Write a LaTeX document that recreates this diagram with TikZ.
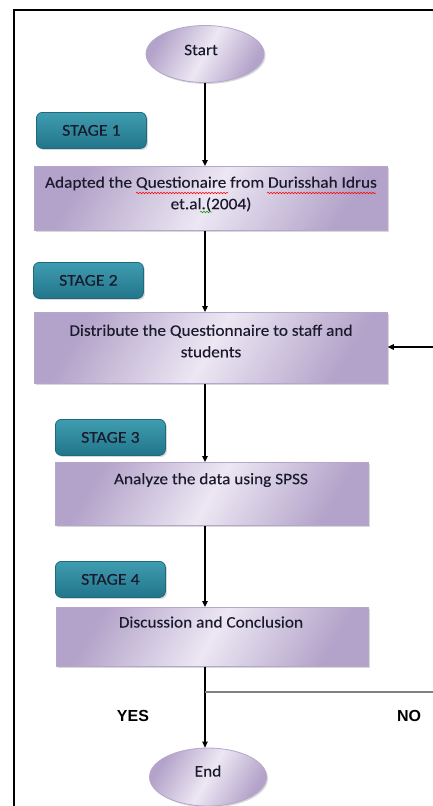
\documentclass[tikz,border=0pt]{standalone}
\usepackage{fontspec}
\setmainfont{Carlito}[FakeStretch=1.08, FakeBold=0.15]
\newfontfamily\yesfont{Liberation Sans}
\usetikzlibrary{shapes.geometric,shadows,arrows.meta,decorations.pathmorphing}
\definecolor{boxdark}{HTML}{B3A2C9}
\definecolor{boxlight}{HTML}{ECE7F3}
\definecolor{boxedge}{HTML}{B5A6CC}
\definecolor{tealA}{HTML}{3F9CB0}
\definecolor{tealB}{HTML}{22758A}
\definecolor{tealedge}{HTML}{1D6A7A}
\definecolor{txt}{HTML}{1A1A2C}
\definecolor{linegray}{HTML}{808080}
\tikzset{
  procbox/.style={draw=boxedge, line width=0.8pt, left color=boxdark, right color=boxdark,
    middle color=boxlight, shading angle=60,
    drop shadow={shadow xshift=2pt, shadow yshift=-2pt, opacity=0.3, fill=gray},
    inner sep=0pt, anchor=north west},
  stagebox/.style={draw=tealedge, line width=0.8pt, rounded corners=6pt, top color=tealA,
    bottom color=tealB, inner sep=0pt, anchor=north west,
    minimum width=110pt, minimum height=36pt, text=txt,
    font=\fontsize{16.5}{18}\selectfont,
    drop shadow={shadow xshift=1.5pt, shadow yshift=-1.5pt, opacity=0.3, fill=gray}},
  termnode/.style={ellipse, draw=boxedge, line width=0.8pt, left color=boxdark, right color=boxdark,
    middle color=boxlight, shading angle=60, inner sep=0pt,
    drop shadow={shadow xshift=1.5pt, shadow yshift=-1.5pt, opacity=0.3, fill=gray}},
  labeltxt/.style={text=txt, align=center, inner sep=0pt, font=\fontsize{16}{21.5}\selectfont},
  arr/.style={line width=1.2pt, -{Triangle[length=6pt,width=5.5pt]}},
  yn/.style={font=\yesfont\bfseries\fontsize{16}{18}\selectfont, inner sep=0pt},
  redsq/.style={draw=red, line width=0.5pt, decorate, decoration={snake, segment length=3pt, amplitude=0.8pt}},
  greensq/.style={draw=green!60!black, line width=0.5pt, decorate, decoration={snake, segment length=3pt, amplitude=0.8pt}},
}
\begin{document}
\begin{tikzpicture}[x=1pt,y=-1pt]
\useasboundingbox[fill=white] (0,0) rectangle (433,806);
% frame
\draw[line width=2.5pt] (14,806) -- (14,10) -- (433,10);

% terminals
\node[termnode, minimum width=118pt, minimum height=57pt] (start) at (205,54) {};
\node[labeltxt] (starttxt) at (201,50) {Start};
\node[termnode, minimum width=117pt, minimum height=58pt] (end) at (208,777) {};
\node[labeltxt] (endtxt) at (208,771) {End};

% stage badges
\node[stagebox] (s1) at (36,112) {STAGE 1};
\node[stagebox] (s2) at (33,262) {STAGE 2};
\node[stagebox] (s3) at (55,419) {STAGE 3};
\node[stagebox] (s4) at (55,561) {STAGE 4};

% process boxes
\node[procbox, minimum width=353pt, minimum height=64pt] (b1) at (34,166) {};
\node[procbox, minimum width=353pt, minimum height=71pt] (b2) at (34,312) {};
\node[procbox, minimum width=313pt, minimum height=63pt] (b3) at (55,462) {};
\node[procbox, minimum width=312pt, minimum height=59pt] (b4) at (56,607) {};

\node[labeltxt] (t1) at (211,194) {Adapted the Questionaire from Durisshah Idrus\\et.al.(2004)};
\node[labeltxt] (t2) at (211,341) {Distribute the Questionnaire to staff and\\students};
\node[labeltxt] (t3) at (211,480) {Analyze the data using SPSS};
\node[labeltxt] (t4) at (211,622) {Discussion and Conclusion};

% spell-check squiggles
\draw[redsq] (136,193) -- (228,193);
\draw[redsq] (267,193) -- (376,193);
\draw[greensq] (200,212) -- (212,212);

% connectors
\draw[arr] (start.south) -- (start.south |- b1.north);
\draw[arr] (start.south |- b1.south) -- (start.south |- b2.north);
\draw[arr] (start.south |- b2.south) -- (start.south |- b3.north);
\draw[arr] (start.south |- b3.south) -- (start.south |- b4.north);
\coordinate (br) at (205,692);
\draw[arr] (start.south |- b4.south) -- (start.south |- end.north);
\coordinate (noend) at (433,692);
\draw[linegray, line width=2pt] (br) -- (noend);
\coordinate (fb) at (433,347);
\draw[arr] (fb) -- (fb -| b2.east);

\node[yn] (yes) at (133,716) {YES};
\node[yn] (no) at (409,716) {NO};
\end{tikzpicture}
\end{document}
